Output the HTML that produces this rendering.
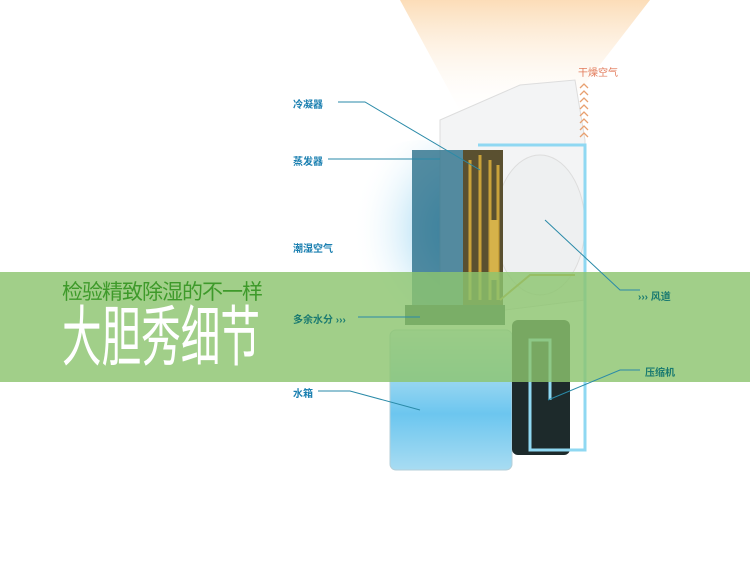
<!DOCTYPE html>
<html><head><meta charset="utf-8"><style>
body{margin:0;width:750px;height:585px;overflow:hidden;background:#fff;font-family:"Liberation Sans","Noto Sans CJK SC",sans-serif;position:relative}
.l{position:absolute;font-size:10px;color:#1a7fb0;font-weight:bold}
</style></head><body>
<svg width="750" height="585" style="position:absolute;left:0;top:0">
<defs>
<linearGradient id="sun" x1="0" y1="0" x2="0" y2="1"><stop offset="0" stop-color="#fbd9b0" stop-opacity=".9"/><stop offset="1" stop-color="#fff" stop-opacity="0"/></linearGradient>
<radialGradient id="blue" cx=".8" cy=".5" r=".7"><stop offset="0" stop-color="#1aa0e0"/><stop offset="1" stop-color="#fff" stop-opacity="0"/></radialGradient>
<linearGradient id="tank" x1="0" y1="0" x2="0" y2="1"><stop offset="0" stop-color="#d9eef5"/><stop offset=".6" stop-color="#6cc6ef"/><stop offset="1" stop-color="#a8dcf2"/></linearGradient>
</defs>
<polygon points="400,0 650,0 565,110 465,120" fill="url(#sun)"/>
<ellipse cx="420" cy="230" rx="85" ry="90" fill="url(#blue)" opacity=".8"/>
<polygon points="440,120 520,85 575,80 585,140 585,300 505,310 440,310" fill="#f3f4f5" stroke="#ddd"/>
<ellipse cx="540" cy="225" rx="45" ry="70" fill="#eef0f1" stroke="#ddd"/>
<rect x="412" y="150" width="55" height="160" fill="#2a6f8a" opacity=".8"/>
<rect x="463" y="150" width="40" height="160" fill="#5a5030"/>
<g stroke="#c9a23a" stroke-width="3" fill="none">
<path d="M470 160 v140 M480 155 v145 M490 160 v140 M498 165 v135"/>
</g>
<rect x="490" y="220" width="8" height="60" fill="#d6b24a"/>
<path d="M500 300 L530 275 H575" stroke="#c9a23a" stroke-width="2" fill="none"/>
<rect x="405" y="305" width="100" height="20" fill="#2a4a45"/>
<rect x="390" y="330" width="122" height="140" rx="6" fill="url(#tank)" stroke="#b5cfd8"/>
<rect x="512" y="320" width="58" height="135" rx="6" fill="#1d2a2b"/>
<path d="M478 145 H585 V450 H530 V340 H550 V400" stroke="#8fd8f2" stroke-width="3" fill="none"/>
<rect x="0" y="272" width="750" height="110" fill="#8cc46f" opacity=".82"/>
<g stroke="#2a8aa8" stroke-width="1" fill="none">
<path d="M338 102 H365 L480 170"/>
<path d="M328 159 H440"/>
<path d="M545 220 L620 290 H640"/>
<path d="M358 317 H420"/>
<path d="M318 391 H350 L420 410"/>
<path d="M640 370 H620 L548 400"/>
</g>
<g fill="none" stroke="#e8a070" stroke-width="1.3">
<path d="M580 88 l4 -4 4 4 M580 95 l4 -4 4 4 M580 102 l4 -4 4 4 M580 109 l4 -4 4 4 M580 116 l4 -4 4 4 M580 123 l4 -4 4 4 M580 130 l4 -4 4 4 M580 137 l4 -4 4 4"/>
</g>
</svg>
<div class="l" style="left:293px;top:96px">冷凝器</div>
<div class="l" style="left:293px;top:153px">蒸发器</div>
<div class="l" style="left:293px;top:240px">潮湿空气</div>
<div class="l" style="left:293px;top:311px;color:#1a7a70">多余水分 ›››</div>
<div class="l" style="left:293px;top:385px">水箱</div>
<div class="l" style="left:638px;top:288px;color:#1a7a70">››› 风道</div>
<div class="l" style="left:645px;top:364px;color:#1a7a70">压缩机</div>
<div class="l" style="left:578px;top:64px;color:#e27a5a;font-weight:normal">干燥空气</div>
<div style="position:absolute;left:62px;top:276px;font-size:21px;color:#3e9a2a;letter-spacing:-1px;white-space:nowrap">检验精致除湿的不一样</div>
<div style="position:absolute;left:62px;top:301px;font-size:66px;color:#fff;white-space:nowrap;transform:scaleX(.6);transform-origin:0 0;line-height:72px">大胆秀细节</div>
</body></html>
